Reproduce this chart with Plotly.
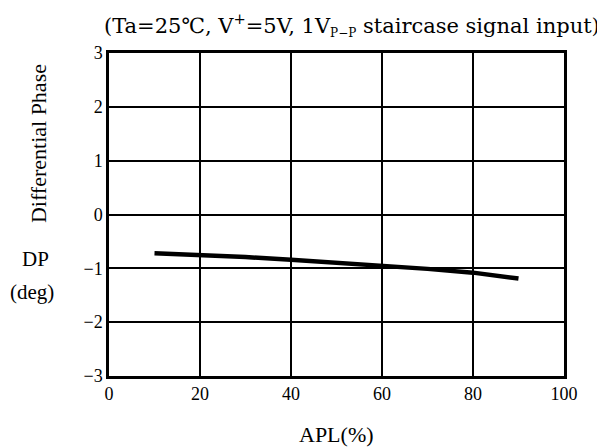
import plotly.graph_objects as go

apl = [10, 20, 30, 40, 50, 60, 70, 80, 90]
dp = [-0.72, -0.75, -0.79, -0.84, -0.89, -0.95, -1.01, -1.08, -1.19]

x_ticks = [0, 20, 40, 60, 80, 100]
x_labels = ["0", "20", "40", "60", "80", "100"]
y_ticks = [-3, -2, -1, 0, 1, 2, 3]
y_labels = ["−3", "−2", "−1", "0", "1", "2", "3"]

FONT = "Liberation Serif"
TFONT = "DejaVu Serif"

fig = go.Figure()
fig.add_trace(go.Scatter(x=apl, y=dp, mode="lines",
                         line=dict(color="black", width=4.5),
                         showlegend=False, hoverinfo="skip"))

axis_common = dict(showgrid=True, gridcolor="black", gridwidth=1.5,
                   showline=True, linecolor="black", linewidth=2.5, mirror=True,
                   zeroline=False, ticks="", ticklen=0,
                   tickfont=dict(size=18, family=FONT, color="black"))

fig.update_layout(
    width=597, height=440,
    margin=dict(l=101, r=41, t=45, b=72, pad=0),
    paper_bgcolor="white", plot_bgcolor="white",
    font=dict(family=FONT, color="black", size=18),
    xaxis=dict(range=[0, 100], tickvals=x_ticks, ticktext=x_labels, **axis_common),
    yaxis=dict(range=[-3, 3], tickvals=y_ticks, ticktext=y_labels, **axis_common),
    annotations=[
        dict(text="(Ta=25℃, V<sup>+</sup>=5V, 1V<sub><span style='font-size:12px'>P−P</span></sub> staircase signal input)",
             xref="paper", yref="paper", x=1.0, xshift=38, y=1.0, yshift=28,
             xanchor="right", yanchor="middle", showarrow=False,
             font=dict(size=21, family=TFONT, color="black")),
        dict(text="APL(%)", xref="paper", yref="paper", x=0.501, y=0, yshift=-58,
             xanchor="center", yanchor="middle", showarrow=False,
             font=dict(size=22, family=FONT, color="black")),
        dict(text="Differential Phase", xref="paper", x=0, xshift=-71, xanchor="center",
             yref="paper", y=0.718, yanchor="middle", textangle=-90, showarrow=False,
             font=dict(size=22, family=FONT, color="black")),
        dict(text="DP", xref="paper", x=0, xshift=-74, xanchor="center",
             yref="y", y=-0.83, yanchor="middle", showarrow=False,
             font=dict(size=21, family=FONT, color="black")),
        dict(text="(deg)", xref="paper", x=0, xshift=-77, xanchor="center",
             yref="y", y=-1.44, yanchor="middle", showarrow=False,
             font=dict(size=21, family=FONT, color="black")),
    ],
)

fig.write_html("out.html")
